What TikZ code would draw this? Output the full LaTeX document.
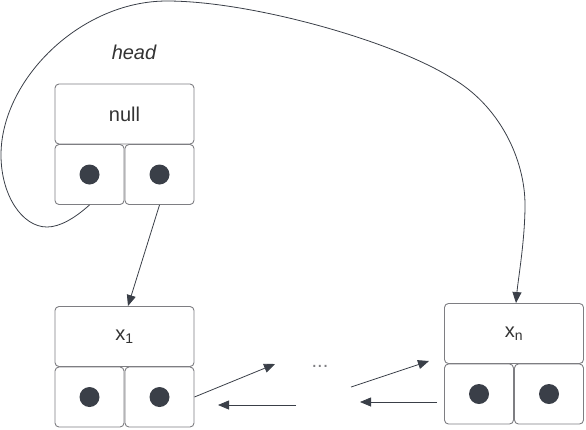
\documentclass[tikz,border=0pt]{standalone}
\usepackage{fontspec}
\setmainfont{Liberation Sans}
\usetikzlibrary{arrows.meta}
\definecolor{ink}{HTML}{3A3F48}
\definecolor{frame}{HTML}{7E7E82}
\definecolor{txt}{HTML}{333333}
\tikzset{
  topbox/.style={draw=frame, line width=0.9pt, rounded corners=4pt, minimum width=139pt, minimum height=60pt, inner sep=0pt, font=\fontsize{20}{20}\selectfont, text=txt},
  cellbox/.style={draw=frame, line width=0.9pt, rounded corners=4pt, minimum width=69pt, minimum height=60pt, inner sep=0pt},
  dotmark/.style={circle, fill=ink, minimum size=20pt, inner sep=0pt},
  link/.style={draw=ink, line width=0.8pt, -{Triangle[length=11pt,width=9pt]}}
}
\begin{document}
\begin{tikzpicture}[x=1pt,y=-1pt]
\useasboundingbox (0,0) rectangle (586,429);
% null node
\node[topbox] (nulltop) at (124.5,114) {null};
\node[cellbox] (nl) at (89.5,174.5) {};
\node[cellbox] (nr) at (159.5,174.5) {};
\node[dotmark] (nld) at (nl.center) {};
\node[dotmark] (nrd) at (nr.center) {};
\node[font=\itshape\fontsize{20}{20}\selectfont, text=txt] (head) at (134,52) {head};
% x1 node
\node[topbox] (x1) at (124.5,336.5) {x\textsubscript{1}};
\node[cellbox] (x1l) at (89.5,397) {};
\node[cellbox] (x1r) at (159.5,397) {};
\node[dotmark] (x1ld) at (x1l.center) {};
\node[dotmark] (x1rd) at (x1r.center) {};
% xn node
\node[topbox] (xn) at (514,333.5) {x\textsubscript{n}};
\node[cellbox] (xnl) at (479,394) {};
\node[cellbox] (xnr) at (549,394) {};
\node[dotmark] (xnld) at (xnl.center) {};
\node[dotmark] (xnrd) at (xnr.center) {};
% ellipsis
\node[text=frame, font=\fontsize{20}{20}\selectfont] (ell) at (320,366) {...};
% coordinates for free ends
\coordinate (a1e) at (275,364);
\coordinate (a2s) at (296,405);
\coordinate (a2e) at (218,405);
\coordinate (a3s) at (351,387);
\coordinate (a3e) at (429,361);
\coordinate (a4s) at (437,402);
\coordinate (a4e) at (360,402);
% connectors
\draw[link] (nr.south) -- ([xshift=3.5pt]x1.north);
\draw[link] (nl.south) .. controls (75,218) and (60,227) .. (47,227)
  .. controls (22,227) and (1,195) .. (1,155)
  .. controls (1,80) and (80,1) .. (167,1)
  .. controls (250,1) and (390,40) .. (450,77)
  .. controls (500,105) and (525,160) .. (525,205)
  .. controls (525,240) and (518,280) .. ([xshift=2pt]xn.north);
\draw[link] (x1r.east |- 0,397) -- (a1e);
\draw[link] (a2s) -- (a2e);
\draw[link] (a3s) -- (a3e);
\draw[link] (a4s) -- (a4e);
\end{tikzpicture}
\end{document}
